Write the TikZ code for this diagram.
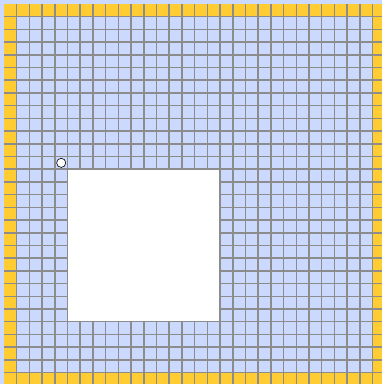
\documentclass[tikz,border=0pt]{standalone}
\usetikzlibrary{positioning}
\definecolor{freeBlue}{HTML}{CCD9FF}
\definecolor{wallGold}{HTML}{FFCC33}
\definecolor{lineGrey}{HTML}{8C8C8C}

\begin{document}
\begin{tikzpicture}[x=5mm,y=-5mm,
    gridline/.style={lineGrey,line width=1.7pt},
    agentdot/.style={circle,draw=black,fill=white,line width=0.7pt,inner sep=0pt,minimum size=3.6mm}]
      \useasboundingbox (-0.315,-0.315) rectangle (29.74,29.9);
      \clip (-0.315,-0.315) rectangle (29.74,29.9);
      \fill[freeBlue] (-0.315,-0.315) rectangle (29.74,29.9);
      % outer wall cells
      \fill[wallGold] (0,0) rectangle (30,1);
      \fill[wallGold] (0,0) rectangle (1,30);
      \fill[wallGold] (29,0) rectangle (30,30);
      \fill[wallGold] (0,29) rectangle (30,30);
      \foreach \i in {1,...,30}{%
        \draw[gridline] (\i,0)--(\i,30);
        \draw[gridline] (0,\i)--(30,\i);
      }
      % empty block
      \fill[white] (5.06,13.06) rectangle (16.94,24.94);
      \node[agentdot] (agent) at (4.5,12.5) {};
    \end{tikzpicture}
\end{document}
